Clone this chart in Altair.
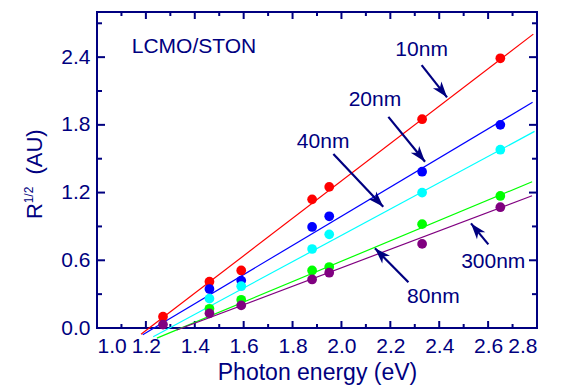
import math
import altair as alt
import pandas as pd

navy = "#000080"
font = "Liberation Sans"

# ---------------- data ----------------
series = ["10nm", "20nm", "40nm", "80nm", "300nm"]
colors = ["#ff0000", "#0000ff", "#00ffff", "#00ff00", "#800080"]

energy = [1.27, 1.46, 1.59, 1.88, 1.95, 2.33, 2.65]
r10 = [0.10, 0.41, 0.51, 1.14, 1.25, 1.85, 2.39]
r20 = [None, 0.345, 0.42, 0.895, 0.99, 1.385, 1.80]
r40 = [None, 0.26, 0.37, 0.70, 0.83, 1.20, 1.58]
r80 = [None, 0.17, 0.25, 0.51, 0.54, 0.92, 1.17]
r300 = [0.03, 0.13, 0.20, 0.43, 0.49, 0.745, 1.07]

fit_x0 = [1.18, 1.187, 1.23, 1.245, 1.326]
fit_y0 = [-0.056, -0.06, -0.077, -0.09, -0.018]
fit_x1 = [2.785, 2.782, 2.79, 2.78, 2.78]
fit_y1 = [2.604, 2.0, 1.742, 1.296, 1.172]

ann_text = ["10nm", "20nm", "40nm", "80nm", "300nm"]
ann_tx = [2.328, 2.137, 1.925, 2.376, 2.621]
ann_ty = [2.462, 2.019, 1.65, 0.272, 0.587]
arr_x0 = [2.328, 2.192, 1.967, 2.274, 2.601]
arr_y0 = [2.329, 1.871, 1.541, 0.405, 0.741]
arr_x1 = [2.432, 2.342, 2.171, 2.137, 2.530]
arr_y1 = [2.044, 1.473, 1.074, 0.706, 0.927]

sample_label = "LCMO/STON"
sample_x = [1.142]
sample_y = [2.491]

x_major = [1.0, 1.2, 1.4, 1.6, 1.8, 2.0, 2.2, 2.4, 2.6, 2.8]
x_minor = [1.1, 1.3, 1.5, 1.7, 1.9, 2.1, 2.3, 2.5, 2.7]
y_major = [0.0, 0.6, 1.2, 1.8, 2.4]
y_minor = [0.3, 0.9, 1.5, 2.1, 2.7]

x_dom = [1.0, 2.8]
y_dom = [0.0, 2.8]
W, H = 440, 316

# ---------------- frames ----------------
pts = []
for name, vals in zip(series, [r10, r20, r40, r80, r300]):
    for e, v in zip(energy, vals):
        if v is not None:
            pts.append({"series": name, "x": e, "y": v})
pts = pd.DataFrame(pts)

fits = []
for name, a, b, c, d in zip(series, fit_x0, fit_y0, fit_x1, fit_y1):
    fits.append({"series": name, "x": a, "y": b, "o": 0})
    fits.append({"series": name, "x": c, "y": d, "o": 1})
fits = pd.DataFrame(fits)

sx = W / (x_dom[1] - x_dom[0])
sy = H / (y_dom[1] - y_dom[0])
arrows, heads = [], []
for i, (a, b, c, d) in enumerate(zip(arr_x0, arr_y0, arr_x1, arr_y1)):
    arrows.append({"id": i, "x": a, "y": b, "o": 0})
    arrows.append({"id": i, "x": c, "y": d, "o": 1})
    dx = (c - a) * sx
    dy = -(d - b) * sy
    ang = math.degrees(math.atan2(dx, -dy)) % 360
    heads.append({"x": c, "y": d, "angle": ang})
arrows = pd.DataFrame(arrows)
heads = pd.DataFrame(heads)
labels = pd.DataFrame({"t": ann_text, "x": ann_tx, "y": ann_ty})
sample = pd.DataFrame({"t": [sample_label], "x": sample_x, "y": sample_y})

xs = alt.Scale(domain=x_dom, nice=False, zero=False)
ys = alt.Scale(domain=y_dom, nice=False, zero=False)
color = alt.Color("series:N", scale=alt.Scale(domain=series, range=colors), legend=None)

X = alt.X("x:Q", scale=xs, title="Photon energy (eV)",
          axis=alt.Axis(values=x_major, format=".1f", ticks=False, domain=False, grid=False,
                        labelFontSize=21, labelColor=navy, labelFont=font, labelPadding=7,
                        titleFontSize=23, titleColor=navy, titleFont=font, titleFontWeight="normal",
                        titlePadding=5))
Y = alt.Y("y:Q", scale=ys, title=None,
          axis=alt.Axis(values=y_major, format=".1f", ticks=False, domain=False, grid=False,
                        labelFontSize=21, labelColor=navy, labelFont=font, labelPadding=7))

base_pts = alt.Chart(pts).mark_circle(size=95, opacity=1).encode(x=X, y=Y, color=color)
fit_lines = alt.Chart(fits).mark_line(strokeWidth=1.2).encode(
    x=alt.X("x:Q", scale=xs), y=alt.Y("y:Q", scale=ys), color=color, detail="series:N", order="o:Q")

arrow_lines = alt.Chart(arrows).mark_line(color=navy, strokeWidth=2.2).encode(
    x=alt.X("x:Q", scale=xs), y=alt.Y("y:Q", scale=ys), detail="id:N", order="o:Q")
arrow_heads = alt.Chart(heads).mark_point(
    shape="M0,0L0.75,2.2L0,1.6L-0.75,2.2Z", size=210, filled=True, opacity=1, color=navy,
    strokeWidth=0).encode(
    x=alt.X("x:Q", scale=xs), y=alt.Y("y:Q", scale=ys), angle=alt.Angle("angle:Q", scale=None))

ann = alt.Chart(labels).mark_text(fontSize=21, font=font, color=navy, align="center",
                                  baseline="middle").encode(
    x=alt.X("x:Q", scale=xs), y=alt.Y("y:Q", scale=ys), text="t:N")
samp = alt.Chart(sample).mark_text(fontSize=21, font=font, color=navy, align="left",
                                   baseline="middle").encode(
    x=alt.X("x:Q", scale=xs), y=alt.Y("y:Q", scale=ys), text="t:N")

# inward ticks on all four sides
def vticks(vals, length, top):
    df = pd.DataFrame({"x": vals})
    if top:
        yy, yy2 = alt.value(0), alt.value(length)
    else:
        yy, yy2 = alt.value(H), alt.value(H - length)
    return alt.Chart(df).mark_rule(color=navy, strokeWidth=2).encode(
        x=alt.X("x:Q", scale=xs), y=yy, y2=yy2)

def hticks(vals, length, right):
    df = pd.DataFrame({"y": vals})
    if right:
        xx, xx2 = alt.value(W), alt.value(W - length)
    else:
        xx, xx2 = alt.value(0), alt.value(length)
    return alt.Chart(df).mark_rule(color=navy, strokeWidth=2).encode(
        y=alt.Y("y:Q", scale=ys), x=xx, x2=xx2)

ticks = [vticks(x_major[1:-1], 7, False), vticks(x_minor, 4, False),
         vticks(x_major[1:-1], 7, True), vticks(x_minor, 4, True),
         hticks(y_major[1:], 8, False), hticks(y_minor, 5, False),
         hticks(y_major[1:], 8, True), hticks(y_minor, 5, True)]

# y title with superscript
ytitle = pd.DataFrame({"t": ["R", "1/2", "(AU)"],
                       "px": [-62, -68, -62], "py": [199, 183, 140], "fs": [22, 12, 22]})
ytit = alt.Chart(ytitle).mark_text(font=font, color=navy, angle=270, align="center",
                                   baseline="middle").encode(
    x=alt.X("px:Q", scale=None), y=alt.Y("py:Q", scale=None), text="t:N",
    size=alt.Size("fs:Q", scale=None, legend=None))

chart = alt.layer(
    *ticks, fit_lines, base_pts, arrow_lines, arrow_heads, ann, samp, ytit
).properties(
    width=W, height=H,
    autosize=alt.AutoSizeParams(type="none"),
    padding={"left": 89, "top": 4, "right": 16, "bottom": 60},
    background="white",
).configure_view(stroke=navy, strokeWidth=2)

chart.save("out.html", embed_options={"renderer": "svg", "actions": False})
